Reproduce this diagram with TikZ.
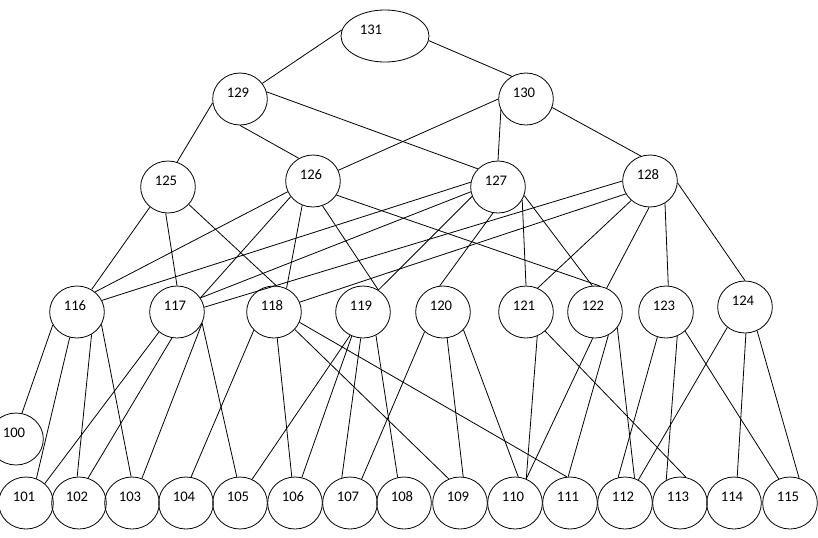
\documentclass[tikz,border=0pt]{standalone}
\usepackage{fontspec}
\setmainfont{Carlito}
\usepackage{tikz}
\usetikzlibrary{shapes.geometric}

\begin{document}
\begin{tikzpicture}[x=0.75pt,y=-0.75pt,font=\fontsize{11pt}{13pt}\selectfont,
    ell/.style={ellipse,draw,line width=0.6pt,minimum width=41pt,minimum height=39pt,inner sep=0pt},
    bub/.style={ell,label={[xshift=-1.5pt,yshift=4.5pt]center:#1}},
    link/.style={line width=0.6pt}]
  \useasboundingbox[fill=white] (0,0) rectangle (818,537);

  % root
  \node[ell,minimum width=66pt,label={[xshift=-10.5pt,yshift=4.5pt]center:131}] (n131) at (385,36) {};

  % upper levels
  \foreach \n/\x/\y in {129/240/99,130/526/99,
    125/168/187,126/313/181,127/498/187,128/650/181}{
    \node[bub=\n] (n\n) at (\x,\y) {};
  }

  % middle level
  \foreach \n/\x/\y in {116/77/312,117/177/312,118/274/312,119/363/312,120/443/312,
    121/526/312,122/595/312,123/666/312,124/745/307,100/16/439}{
    \node[bub=\n] (n\n) at (\x,\y) {};
  }

  % bottom row
  \foreach \n/\x in {101/26,102/79,103/132,104/186,105/240,106/295,107/350,108/404,
    109/460,110/515,111/570,112/625,113/680,114/734,115/790}{
    \node[bub=\n] (n\n) at (\x,503) {};
  }

  % links: parent/angle/child/angle
  \foreach \a/\p/\b/\q in {131/172/129/35,131/-6/130/122,
    129/188/125/70,129/270/126/122,129/15/127/138,
    130/180/126/23,130/204/127/90,130/-18/128/110,
    125/228/116/57,125/265/117/90,125/320/118/85,
    126/203/116/48,126/215/117/31,126/246/118/62,126/291/119/55,126/329/122/79,
    127/170/116/25,127/190/117/31,127/200/119/55,127/259/120/97,127/332/121/90,127/342/122/96,
    128/180/117/10,128/208/118/21,128/226/121/64,128/268/122/64,128/304/123/85,128/356/124/90,
    116/208/100/77,116/254/101/67,116/303/102/94,116/333/103/92,
    117/228/101/46,117/259/102/70,117/336/103/68,117/336/105/97,
    118/222/104/79,118/277/106/97,118/320/109/115,118/338/111/97,
    119/241/105/63,119/245/106/75,119/265/107/108,119/299/108/104,
    120/227/107/64,120/279/109/83,120/319/110/83,
    121/295/110/65,121/315/113/77,
    122/265/110/65,122/300/111/94,122/325/112/69,
    123/251/112/105,123/295/113/121,123/315/115/115,
    124/229/112/60,124/272/114/83,124/297/115/70}{
    \draw[link] (n\a.\p) -- (n\b.\q);
  }
\end{tikzpicture}
\end{document}
